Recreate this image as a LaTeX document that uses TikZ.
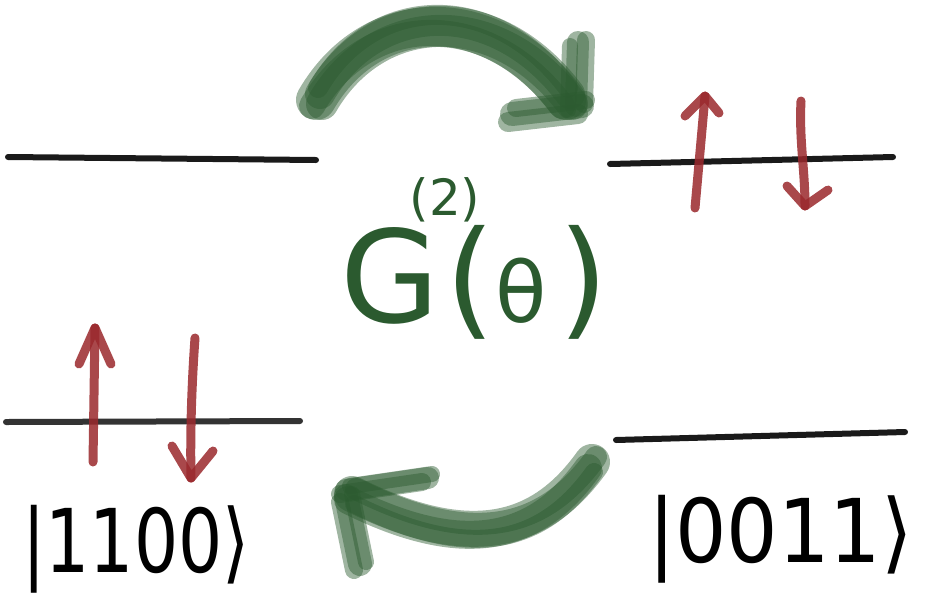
\documentclass[tikz,border=0pt]{standalone}
\usepackage{fontspec}
\setmainfont{DejaVu Sans}
\definecolor{sketchgreen}{HTML}{2B5A2F}
\definecolor{spinred}{HTML}{9A282C}
\definecolor{levelgray}{HTML}{1A1A1A}
\begin{document}
\begin{tikzpicture}[x=1pt,y=-1pt,
  level/.style={line width=6pt,line cap=round,draw=levelgray},
  spin/.style={line width=9pt,line cap=round,line join=round,draw=spinred,opacity=0.85},
  bigstroke/.style={line width=#1,line cap=round,draw=sketchgreen,opacity=0.45},
  bigstroke/.default=30pt,
  ket/.style={font=\fontsize{88}{88}\selectfont,inner sep=0pt,transform shape}
]
\useasboundingbox (0,0) rectangle (931,598);

% energy levels
\coordinate (tl1) at (8,157);   \coordinate (tl2) at (316,160);
\coordinate (tr1) at (610,164); \coordinate (tr2) at (893,157);
\coordinate (bl1) at (6,422);   \coordinate (bl2) at (300,421);
\coordinate (br1) at (616,440); \coordinate (br2) at (905,432);
\draw[level] (tl1) -- (tl2);
\draw[level] (tr1) -- (tr2);
\draw[level,draw=black!80] (bl1) -- (bl2);
\draw[level] (br1) -- (br2);

% spins top right
\coordinate (ua1) at (695,208); \coordinate (ua2) at (705,96);
\draw[spin] (ua1) -- (ua2);
\draw[spin] (685,116) -- (ua2) -- (719,113);
\coordinate (da1) at (801,101); \coordinate (da2) at (805,206);
\draw[spin] (da1) .. controls (799,140) and (805,170) .. (da2);
\draw[spin] (787,186) -- (da2) -- (828,190);

% spins bottom left
\coordinate (ub1) at (93,462); \coordinate (ub2) at (95,328);
\draw[spin] (ub1) -- (ub2);
\draw[spin] (79,364) -- (ub2) -- (111,364);
\coordinate (db1) at (195,338); \coordinate (db2) at (191,478);
\draw[spin] (db1) .. controls (192,380) and (190,430) .. (db2);
\draw[spin] (172,446) -- (db2) -- (213,451);

% top green arrow
\coordinate (ga1) at (316,100); \coordinate (ga2) at (566,100);
\foreach \dx/\dy/\w in {0/0/40pt,4/-6/30pt,-4/6/26pt,2/-12/20pt,6/4/32pt}{
  \draw[bigstroke=\w] ([shift={(\dx,\dy)}]ga1) .. controls +(55,-95) and +(-75,-100) .. ([shift={(\dx,\dy)}]ga2);
}
\foreach \dx/\dy/\w in {0/0/22pt,-8/4/16pt,8/-2/18pt}{
  \draw[bigstroke=\w] ([shift={(\dx,\dy)}]578,42) -- ([shift={(\dx,\dy)}]576,106);
}
\foreach \dx/\dy/\w in {0/0/24pt,-4/8/20pt,4/-6/18pt}{
  \draw[bigstroke=\w] ([shift={(\dx,\dy)}]512,114) -- ([shift={(\dx,\dy)}]582,106);
}

% bottom green arrow
\coordinate (gb1) at (592,462); \coordinate (gb2) at (352,494);
\foreach \dx/\dy/\w in {0/0/36pt,-4/6/28pt,4/-5/22pt,2/10/18pt}{
  \draw[bigstroke=\w] ([shift={(\dx,\dy)}]gb1) .. controls +(-50,70) and +(120,60) .. ([shift={(\dx,\dy)}]gb2);
}
\foreach \dx/\dy/\w in {0/0/22pt,-6/4/18pt,4/-4/16pt}{
  \draw[bigstroke=\w] ([shift={(\dx,\dy)}]346,490) -- ([shift={(\dx,\dy)}]428,478);
}
\foreach \dx/\dy/\w in {0/0/24pt,-6/6/18pt,6/-2/16pt}{
  \draw[bigstroke=\w] ([shift={(\dx,\dy)}]346,496) -- ([shift={(\dx,\dy)}]360,564);
}

% operator label
\node[text=sketchgreen,font=\fontsize{128}{128}\selectfont,inner sep=0pt,anchor=base west] (op) at (340,322)
  {G\hspace{6pt}({\fontsize{84}{84}\selectfont θ}\hspace{12pt})};
\node[text=sketchgreen,font=\fontsize{50}{50}\selectfont,inner sep=0pt,anchor=base] (sup) at (445,215) {(2)};

% kets
\node[ket,xscale=0.79,anchor=base west] (k1) at (22,572) {|1100⟩};
\node[ket,xscale=0.92,anchor=base west] (k2) at (648,562) {|0011⟩};
\end{tikzpicture}
\end{document}
